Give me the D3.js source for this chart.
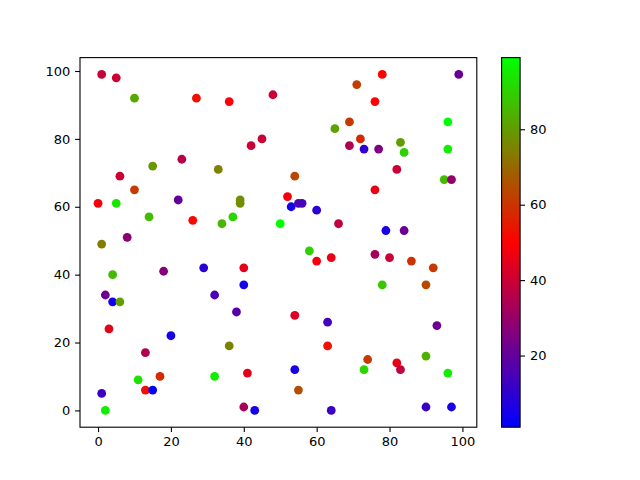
<!DOCTYPE html>
<html>
<head>
<meta charset="utf-8">
<script src="https://cdn.jsdelivr.net/npm/d3@7"></script>
<style>
  body { margin: 0; background: #fff; }
  svg { display: block; }
  text { font-family: "DejaVu Sans", sans-serif; }
</style>
</head>
<body>
<svg id="chart" width="640" height="480"></svg>
<script>
// Data
const xs = [1,5,10,27,15,23,6,33,36,48,65,45,42,54,78,99,71,76,69,96,72,69,73,77,83,84,96,82,95,97,
            10,0,5,22,14,26,8,1,4,18,29,2,4,6,32,39,39,37,34,52,53,55,56,60,66,50,58,60,64,40,
            40,76,79,84,76,80,86,92,78,90,3,20,13,11,17,13,15,1,2,38,54,63,36,63,32,41,54,55,40,43,
            64,93,74,73,82,83,90,96,90,97];
const ys = [99,98,92,92,72,74,69,71,91,93,83,80,78,69,99,99,96,91,85,85,80,78,77,77,79,76,77,71,68,68,
            65,61,61,62,57,56,51,49,40,41,42,34,32,32,34,62,61,57,55,63,60,61,61,59,55,55,47,44,45,42,
            37,65,53,53,46,45,44,42,37,37,24,22,17,9,10,6,6,5,0,29,28,26,19,19,10,11,12,6,1,0,
            0,25,15,12,14,12,16,11,1,1];
const cs = [39,40,82,53,79,36,40,75,50,40,81,40,40,63,50,21,62,50,61,99,58,35,10,25,80,90,96,40,86,29,
            61,48,94,20,86,51,28,74,86,27,9,22,4,81,15,77,77,91,85,48,5,15,15,9,38,99,90,48,46,45,
            5,46,6,22,33,40,59,61,88,64,45,5,35,93,58,53,1,12,96,18,43,14,75,53,96,45,6,65,33,5,
            12,22,61,91,46,38,84,96,12,6];
const xTicks = [0,20,40,60,80,100];
const yTicks = [0,20,40,60,80,100];
const cTicks = [20,40,60,80];

const svg = d3.select("#chart");
const L = 80, R = 476.8, T = 57.6, B = 427.2;
const cbL = 501.6, cbW = 18.5;

const pts = xs.map((x, i) => ({x, y: ys[i], c: cs[i]}));

const xMin = d3.min(xs), xMax = d3.max(xs), xPad = (xMax - xMin) * 0.05;
const yMin = d3.min(ys), yMax = d3.max(ys), yPad = (yMax - yMin) * 0.05;
const x = d3.scaleLinear().domain([xMin - xPad, xMax + xPad]).range([L, R]);
const y = d3.scaleLinear().domain([yMin - yPad, yMax + yPad]).range([B, T]);
const cExt = d3.extent(cs);
const cMid = (cExt[0] + cExt[1]) / 2;
const color = d3.scaleLinear().domain([cExt[0], cMid, cExt[1]])
  .range(["#0000ff", "#ff0000", "#00ff00"]).interpolate(d3.interpolateRgb);

// points
svg.append("g").selectAll("circle").data(pts).join("circle")
  .attr("cx", d => x(d.x)).attr("cy", d => y(d.y)).attr("r", 4.4)
  .attr("fill", d => color(d.c));

// axes
const fs = "13px";
const xa = svg.append("g").attr("transform", `translate(0,${B})`)
  .call(d3.axisBottom(x).tickValues(xTicks).tickSize(4.9).tickPadding(4.9).tickFormat(d3.format("d")));
const ya = svg.append("g").attr("transform", `translate(${L},0)`)
  .call(d3.axisLeft(y).tickValues(yTicks).tickSize(4.9).tickPadding(4.9).tickFormat(d3.format("d")));
[xa, ya].forEach(a => {
  a.select(".domain").remove();
  a.selectAll("line").attr("stroke", "#000").attr("stroke-width", 1.1);
  a.selectAll("text").attr("font-size", fs).attr("fill", "#000")
   .attr("font-family", "'DejaVu Sans', sans-serif");
});
svg.append("rect").attr("x", L).attr("y", T).attr("width", R - L).attr("height", B - T)
  .attr("fill", "none").attr("stroke", "#000").attr("stroke-width", 1.1);

// colorbar
const defs = svg.append("defs");
const grad = defs.append("linearGradient").attr("id", "cbgrad")
  .attr("x1", "0").attr("y1", "1").attr("x2", "0").attr("y2", "0");
d3.range(0, 1.0001, 0.05).forEach(t => {
  grad.append("stop").attr("offset", t)
    .attr("stop-color", color(cExt[0] + t * (cExt[1] - cExt[0])));
});
const cy = d3.scaleLinear().domain(cExt).range([B, T]);
svg.append("rect").attr("x", cbL).attr("y", T).attr("width", cbW).attr("height", B - T)
  .attr("fill", "url(#cbgrad)");
const ca = svg.append("g").attr("transform", `translate(${cbL + cbW},0)`)
  .call(d3.axisRight(cy).tickValues(cTicks).tickSize(4.9).tickPadding(4.9).tickFormat(d3.format("d")));
ca.select(".domain").remove();
ca.selectAll("line").attr("stroke", "#000").attr("stroke-width", 1.1);
ca.selectAll("text").attr("font-size", fs).attr("fill", "#000")
  .attr("font-family", "'DejaVu Sans', sans-serif");
svg.append("rect").attr("x", cbL).attr("y", T).attr("width", cbW).attr("height", B - T)
  .attr("fill", "none").attr("stroke", "#000").attr("stroke-width", 1.1);
</script>
</body>
</html>
